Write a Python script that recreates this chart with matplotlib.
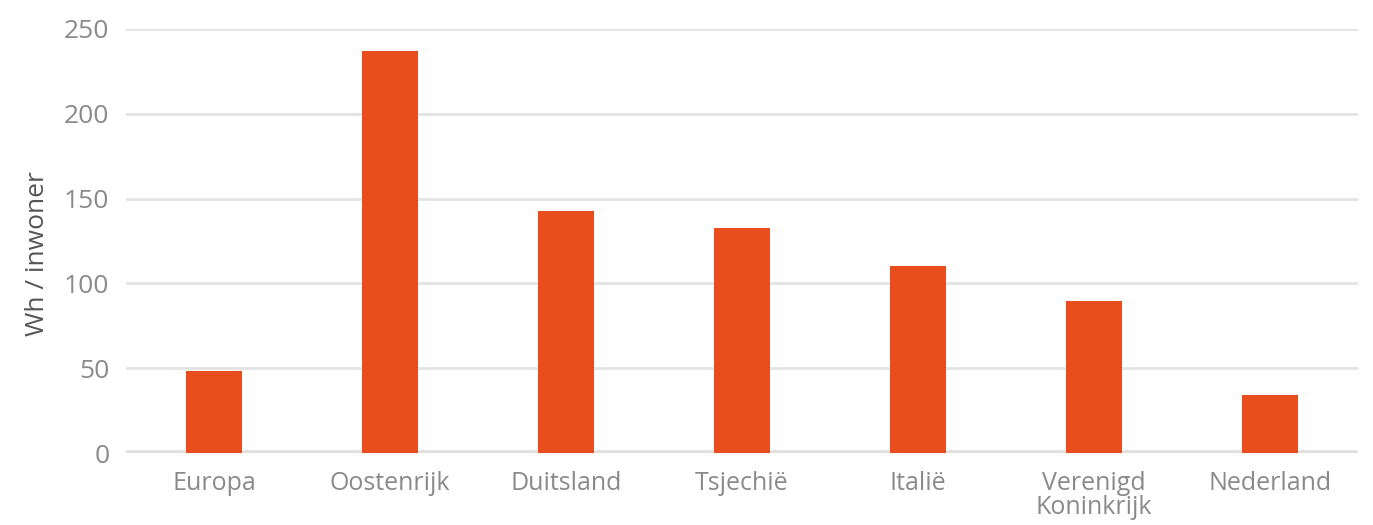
import matplotlib.pyplot as plt

# Data
landen = ["Europa", "Oostenrijk", "Duitsland", "Tsjechië", "Italië",
          "Verenigd\nKoninkrijk", "Nederland"]
wh_per_inwoner = [48.5, 237, 142.5, 132.5, 110, 89.5, 34.5]
y_ticks = [0, 50, 100, 150, 200, 250]

plt.rcParams["font.family"] = ["Open Sans", "DejaVu Sans"]

fig = plt.figure(figsize=(13.73, 5.25), dpi=100)
ax = fig.add_axes([0.0918, 0.137, 0.8972, 0.808])

x = range(len(landen))
ax.bar(x, wh_per_inwoner, width=0.32, color="#E84E1C", zorder=3)

ax.set_xlim(-0.5, len(landen) - 0.5)
ax.set_ylim(0, 250)
ax.set_yticks(y_ticks)
ax.set_xticks(list(x))
ax.set_xticklabels(landen, fontsize=18, color="#8a8a8a", linespacing=0.95)
ax.tick_params(axis="y", labelsize=19, labelcolor="#8a8a8a", length=0, pad=12)
ax.tick_params(axis="x", length=0, pad=13)

# Gridlines
ax.yaxis.grid(True, color="#e3e3e3", linewidth=2, zorder=0)
ax.axhline(0, color="#e0e0e0", linewidth=4, zorder=2)

for side in ["top", "right", "left", "bottom"]:
    ax.spines[side].set_visible(False)

ax.set_ylabel("Wh / inwoner", fontsize=19, color="#555555")
ax.yaxis.set_label_coords(-0.062, 0.47)

fig.savefig("out.png", dpi=100)
